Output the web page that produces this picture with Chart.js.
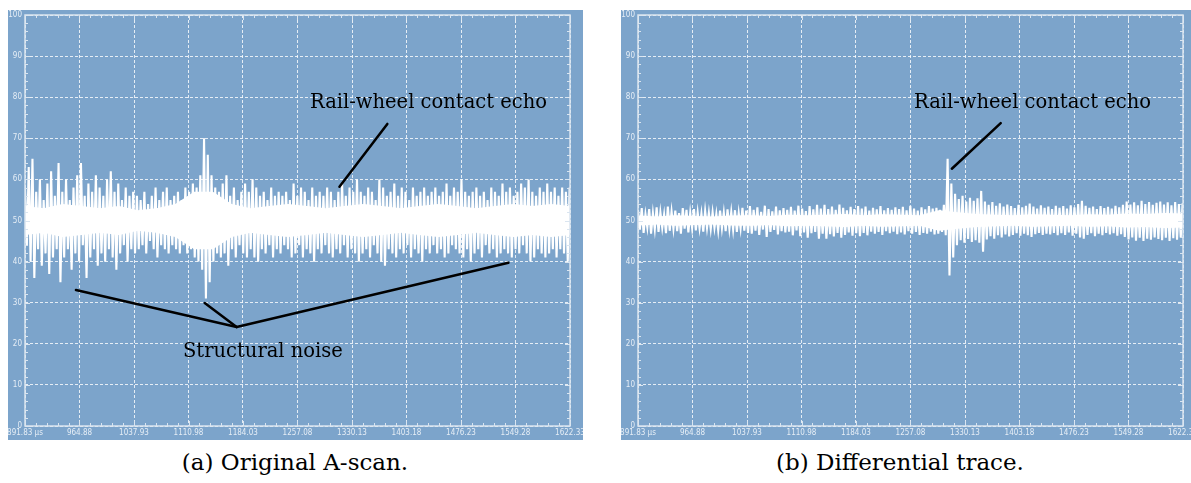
<!DOCTYPE html>
<html>
<head>
<meta charset="utf-8">
<script src="https://cdn.jsdelivr.net/npm/chart.js@4"></script>
<style>
  html, body { margin: 0; padding: 0; background: #fff; }
  body { width: 1191px; height: 483px; overflow: hidden; position: relative; }
  .panel { position: absolute; top: 10px; width: 575px; height: 430px; background: rgb(124,164,203); }
  .note { position: absolute; font-family: "DejaVu Serif", serif; font-size: 19.5px; line-height: 20px; color: #000; white-space: nowrap; }
  .caption { position: absolute; top: 449px; font-family: "DejaVu Serif", serif; font-size: 23px; line-height: 26px; color: #000; text-align: center; white-space: nowrap; }
</style>
</head>
<body>
<div class="panel" style="left:8px"><canvas id="chartA" width="575" height="430"></canvas></div>
<div class="panel" style="left:621px"><canvas id="chartB" width="575" height="430"></canvas></div>

<div class="note" style="left:310px; top:92px">Rail-wheel contact echo</div>
<div class="note" style="left:183px; top:341px">Structural noise</div>
<div class="note" style="left:914px; top:92px">Rail-wheel contact echo</div>

<div class="caption" style="left:0; width:590px">(a) Original A-scan.</div>
<div class="caption" style="left:600px; width:600px">(b) Differential trace.</div>

<script>
// time axis (µs)
const xStart = 891.83;
const xEnd = 1622.33;
const sampleStep = 5;
const xTicks = [891.83, 964.88, 1037.93, 1110.98, 1184.03, 1257.08, 1330.13, 1403.18, 1476.23, 1549.28, 1622.33];
const xTickLabels = ['891.83 µs', '964.88', '1037.93', '1110.98', '1184.03', '1257.08', '1330.13', '1403.18', '1476.23', '1549.28', '1622.33'];

// (a) original A-scan: upper / lower peaks of each 5 µs slice
const scanHi = [
  58, 63, 65, 57, 60, 55, 59, 62, 56, 64,
  57, 60, 55, 58, 61, 64, 56, 59, 57, 61,
  58, 56, 60, 62, 57, 59, 55, 58, 56, 57,
  56, 55, 57, 54, 56, 58, 55, 57, 58, 55,
  56, 57, 55, 58, 57, 59, 58, 61,
  70, 66, 61, 58,
  57, 59, 61, 56, 58, 55, 57, 59,
  57, 60, 58, 56, 57, 55, 58, 56, 57, 56,
  57, 55, 59, 56, 58, 57, 55, 58, 56, 57,
  56, 58, 57, 55, 57, 59, 56, 58, 57, 60,
  57, 56, 58, 57, 55, 60, 58, 56, 57, 59,
  56, 58, 57, 55, 58, 56, 57, 58, 56, 57,
  58, 56, 57, 59, 56, 58, 57, 60, 57, 56,
  57, 58, 56, 57, 55, 58, 57, 56, 59, 57,
  58, 56, 57, 59, 58, 60, 57, 56, 58, 57,
  59, 57, 58, 56, 58, 57, 58
];
const scanLo = [
  44, 40, 36, 43, 39, 42, 37, 41, 43, 35,
  41, 43, 38, 42, 40, 44, 36, 41, 43, 39,
  42, 40, 43, 41, 38, 42, 44, 40, 43, 42,
  43, 44, 42, 45, 43, 41, 44, 43, 42, 44,
  43, 42, 44, 42, 43, 41, 40, 38,
  31, 35, 40, 42,
  41, 42, 39, 43, 41, 44, 42, 41,
  43, 41, 40, 43, 42, 44, 41, 43, 42, 44,
  43, 41, 42, 44, 41, 43, 42, 40, 43, 42,
  44, 42, 41, 43, 42, 44, 41, 43, 42, 40,
  42, 43, 41, 44, 42, 40, 39, 43, 42, 41,
  43, 42, 44, 41, 43, 42, 40, 43, 42, 44,
  42, 43, 41, 42, 44, 43, 42, 41, 43, 40,
  42, 43, 41, 44, 42, 43, 41, 42, 43, 42,
  41, 43, 42, 44, 42, 40, 41, 43, 42, 41,
  42, 43, 41, 43, 42, 40, 41
];
// dense core of the A-scan band
const scanCoreHi = [53.5, 53, 54, 53.5, 53, 53.5, 52.5, 53, 54, 57, 57, 54, 53, 53.5, 54, 53.5, 53, 53.5, 54, 53.5, 53, 53.5, 54, 53.5, 53, 53.5, 54, 53.5, 54, 53.5];
const scanCoreLo = [46.5, 47, 46, 46.5, 47, 46.5, 47.5, 47, 46, 43, 43, 46, 47, 46.5, 46, 46.5, 47, 46.5, 46, 46.5, 47, 46.5, 46, 46.5, 47, 46.5, 46, 46.5, 46, 46.5];

// (b) differential trace
const diffHi = [
  52.5, 53, 51.5, 52.8, 51.8, 53.2, 52, 51.5, 53.4, 52.2,
  52.4, 51.8, 53, 52.6, 51.9, 52.8, 52, 51.7, 52.3, 51.9,
  52, 51.6, 52.4, 51.9, 52.7, 52.1, 52.5, 51.8, 53.1, 52.4,
  53.5, 52.6, 53.2, 52.1, 53.6, 52.8, 52.2, 53.4, 52.5, 53,
  52.6, 53.3, 52.4, 53.6, 52.9, 52.3, 53.5, 52.7, 53.8, 52.9,
  53.8, 52.8, 53.4, 52.6, 53.9, 53.1, 52.5, 53.3, 52.8, 53.5,
  52.9, 53.4, 52.4, 53.1, 52.7, 53.5, 52.5, 53, 52.6, 53.2,
  52.8, 53.3, 52.5, 53.6, 52.9, 52.4, 53.2, 52.7, 53.5, 52.9,
  53.1, 52.6, 53.8, 65, 59, 56.5, 55.2, 56, 54.6, 55.5,
  54.8, 55.4, 57.2, 54.6, 53.8, 54.5, 53.6, 54.2, 53.4, 53.9,
  53.5, 53, 53.8, 53.2, 53.6, 54.1, 53.4, 52.9, 53.7, 53.1,
  53.4, 52.8, 53.6, 53.1, 53.5, 52.9, 53.7, 53.2, 54, 54.8,
  53.6, 53.1, 53.4, 52.8, 53.5, 53, 53.3, 52.9, 53.6, 53.2,
  53.8, 54.6, 53.9, 54.4, 53.7, 54.8, 54, 54.5, 53.8, 54.3,
  54.6, 53.9, 54.4, 53.7, 54.5, 54, 54.2
];
const diffLo = [
  47.8, 47, 48.3, 46.8, 47.9, 47.2, 48.2, 46.9, 47.5, 48,
  47.4, 46.8, 48, 47.1, 48.2, 47.6, 48.1, 47.3, 48.2, 47.9,
  48.2, 47.6, 48.1, 47.4, 48, 47.8, 47.2, 48.1, 47.5, 47,
  46.8, 47.5, 46.5, 47.8, 46, 47.2, 47.7, 46.6, 47.4, 47.1,
  47.3, 46.4, 47.6, 46.2, 47.1, 45.8, 46.9, 47.2, 45.6, 46.8,
  45.6, 46.7, 46.1, 47, 45.8, 46.5, 47.1, 46.3, 46.9, 46.2,
  47, 46.4, 47.3, 46.8, 47.2, 46.5, 47.4, 46.9, 47.3, 46.7,
  47.1, 46.6, 47.4, 46.8, 47.2, 46.5, 47, 46.8, 47.3, 46.6,
  46.8, 47.2, 46.4, 36.6, 41, 44, 45.2, 44.6, 45.5, 44.8,
  45.2, 44.6, 42.4, 45.4, 46.2, 45.6, 46.4, 45.9, 46.6, 46.1,
  46.5, 46.9, 46.3, 46.8, 46.4, 46, 46.7, 47, 46.5, 46.8,
  46.6, 47, 46.4, 46.9, 46.5, 47.1, 46.3, 46.8, 45.9, 45.6,
  46.5, 46.9, 46.2, 46.8, 46.4, 47, 46.6, 46.9, 46.3, 46.7,
  46, 45.4, 45.9, 45.1, 45.8, 45, 45.6, 45.3, 45.9, 45.5,
  45.2, 45.8, 45, 45.7, 45.3, 45.9, 45.6
];
const diffCoreHi = [51.2, 51, 51.3, 51.1, 51, 51.2, 51.3, 51.1, 51.4, 51.3, 51.4, 51.6, 51.3, 51.5, 51.4, 51.3, 52.5, 52, 51.6, 51.4, 51.3, 51.5, 51.4, 51.3, 51.5, 51.4, 51.7, 51.6, 51.8, 51.7];
const diffCoreLo = [48.8, 49, 48.7, 48.9, 49, 48.8, 48.7, 48.9, 48.6, 48.7, 48.6, 48.4, 48.7, 48.5, 48.6, 48.7, 47.5, 48, 48.4, 48.6, 48.7, 48.5, 48.6, 48.7, 48.5, 48.6, 48.3, 48.4, 48.2, 48.3];

// pointer lines of the annotations, in (µs, value)
const pointersA = [
  [[1377.5, 73.5], [1313.3, 58.2]],
  [[960.1, 33.1], [1175.5, 24.1]],
  [[1132.7, 29.9], [1175.5, 24.1]],
  [[1539.8, 39.7], [1175.5, 24.1]]
];
const pointersB = [
  [[1378, 73.7], [1312.5, 62.6]]
];

const tickFont = { family: '"Liberation Sans Narrow", "DejaVu Sans Condensed", sans-serif', size: 8, lineHeight: 1 };
const tickColor = '#e6eef6';
const gridColor = 'rgba(255,255,255,0.8)';

const framePlugin = {
  id: 'frame',
  afterDatasetsDraw(chart, args, opts) {
    const { ctx, chartArea: a, scales: { x, y } } = chart;
    ctx.save();
    ctx.strokeStyle = '#dae5f0';
    ctx.lineWidth = 1.5;
    ctx.strokeRect(a.left, a.top, a.right - a.left, a.bottom - a.top);
    ctx.lineWidth = 1;
    ctx.beginPath();
    for (let v = 0; v <= 100; v += 2) {
      const py = Math.round(y.getPixelForValue(v)) + 0.5;
      const len = v % 10 === 0 ? 5 : 3;
      ctx.moveTo(a.left, py); ctx.lineTo(a.left + len, py);
      ctx.moveTo(a.right, py); ctx.lineTo(a.right - len, py);
    }
    const minor = (xTicks[1] - xTicks[0]) / 5;
    for (let j = 0; j <= 50; j++) {
      const px = Math.round(x.getPixelForValue(xTicks[0] + j * minor)) + 0.5;
      const len = j % 5 === 0 ? 5 : 3;
      ctx.moveTo(px, a.top); ctx.lineTo(px, a.top + len);
      ctx.moveTo(px, a.bottom); ctx.lineTo(px, a.bottom - len);
    }
    ctx.stroke();

    ctx.strokeStyle = '#000';
    ctx.lineWidth = 2.5;
    ctx.lineCap = 'round';
    (opts.pointers || []).forEach(([p, q]) => {
      ctx.beginPath();
      ctx.moveTo(x.getPixelForValue(p[0]), y.getPixelForValue(p[1]));
      ctx.lineTo(x.getPixelForValue(q[0]), y.getPixelForValue(q[1]));
      ctx.stroke();
    });
    ctx.restore();
  }
};

function makeChart(id, hi, lo, coreHi, coreLo, pointers) {
  const trace = hi.flatMap((v, i) => [
    { x: xStart + i * sampleStep, y: v },
    { x: xStart + i * sampleStep + sampleStep / 2, y: lo[i] }
  ]);
  const coreStep = (xEnd - xStart) / (coreHi.length - 1);
  const top = coreHi.map((v, k) => ({ x: xStart + k * coreStep, y: v }));
  const bottom = coreLo.map((v, k) => ({ x: xStart + k * coreStep, y: v }));

  new Chart(document.getElementById(id), {
    type: 'line',
    data: {
      datasets: [
        { data: trace, borderColor: '#fff', borderWidth: 2.1, pointRadius: 0, tension: 0, fill: false },
        { data: top, borderWidth: 0, borderColor: 'rgba(0,0,0,0)', pointRadius: 0, tension: 0, fill: '+1', backgroundColor: '#fff' },
        { data: bottom, borderWidth: 0, borderColor: 'rgba(0,0,0,0)', pointRadius: 0, tension: 0, fill: false }
      ]
    },
    options: {
      responsive: false,
      devicePixelRatio: 1,
      animation: false,
      layout: { padding: { top: 5, right: 13, left: 0, bottom: 0 } },
      plugins: {
        legend: { display: false },
        tooltip: { enabled: false },
        frame: { pointers }
      },
      scales: {
        x: {
          type: 'linear',
          min: xStart,
          max: xEnd,
          afterBuildTicks: s => { s.ticks = xTicks.map(v => ({ value: v })); },
          afterFit: s => { s.height = 14; s.paddingLeft = 0; s.paddingRight = 0; },
          ticks: {
            autoSkip: false,
            maxRotation: 0,
            padding: 3,
            font: tickFont,
            color: tickColor,
            callback: (v, i) => xTickLabels[i]
          },
          grid: { color: gridColor, lineWidth: 1, drawTicks: false },
          border: { display: false, dash: [3, 2] }
        },
        y: {
          min: 0,
          max: 100,
          afterFit: s => { s.width = 17; s.paddingTop = 0; s.paddingBottom = 0; },
          ticks: { stepSize: 10, padding: 3, font: tickFont, color: tickColor },
          grid: { color: gridColor, lineWidth: 1, drawTicks: false },
          border: { display: false, dash: [3, 2] }
        }
      }
    },
    plugins: [framePlugin]
  });
}

makeChart('chartA', scanHi, scanLo, scanCoreHi, scanCoreLo, pointersA);
makeChart('chartB', diffHi, diffLo, diffCoreHi, diffCoreLo, pointersB);
</script>
</body>
</html>
